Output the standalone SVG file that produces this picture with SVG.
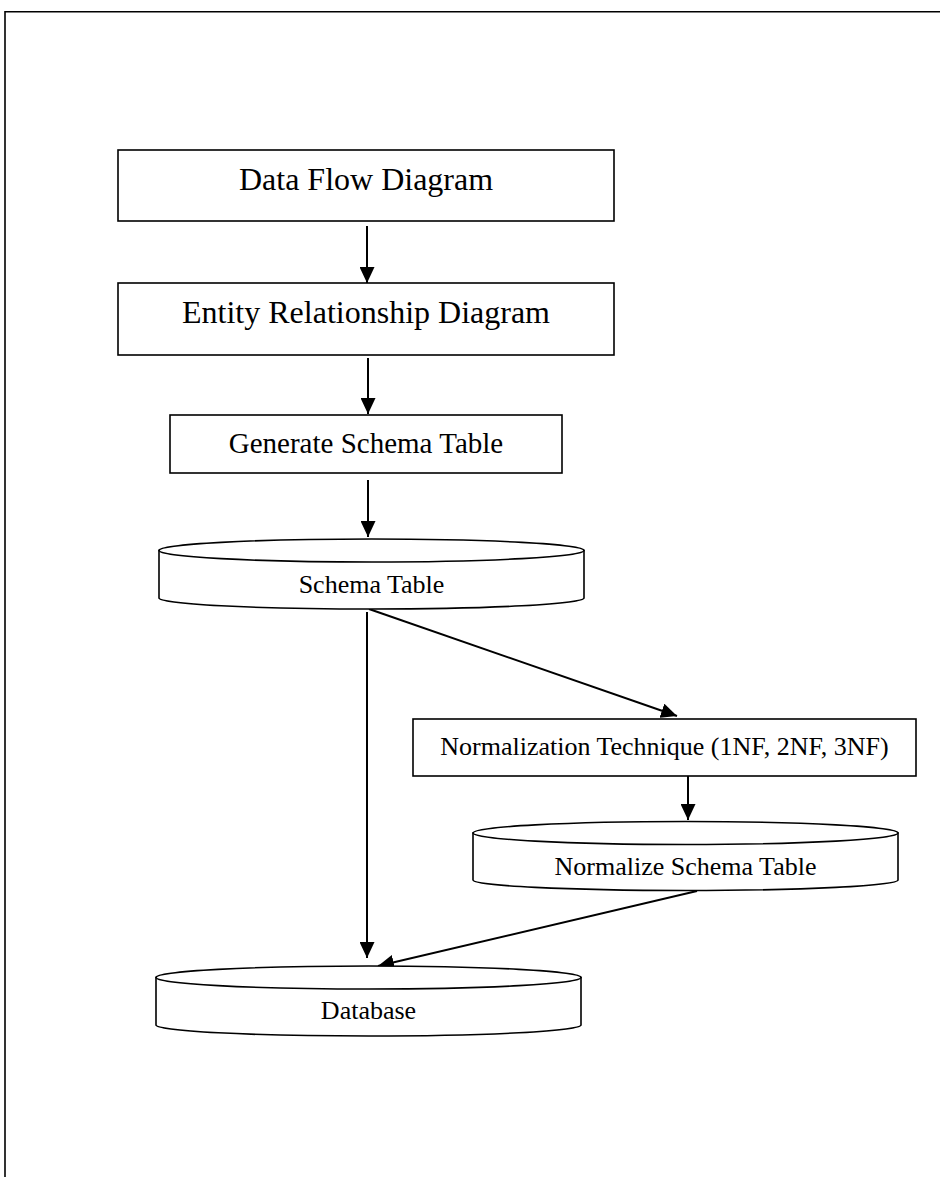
<svg xmlns="http://www.w3.org/2000/svg" width="940" height="1177" viewBox="0 0 940 1177">
  <style>
    .box { fill: #fff; stroke: #000; stroke-width: 1.6; }
    .cyl { fill: #fff; stroke: #000; stroke-width: 1.6; }
    .lbl { font-family: "Liberation Serif", "Times New Roman", serif; fill: #000; text-anchor: middle; }
    .big { font-size: 32px; }
    .mid { font-size: 29px; }
    .sm { font-size: 26px; }
    .edge { stroke: #000; stroke-width: 2; fill: none; marker-end: url(#arrow); }
    .frame { stroke: #000; stroke-width: 1.6; fill: none; }
  </style>
  <defs>
    <marker id="arrow" markerUnits="userSpaceOnUse" markerWidth="16" markerHeight="15" refX="16" refY="7.5" orient="auto">
      <path d="M0,0 L16,7.5 L0,15 z" fill="#000"/>
    </marker>
  </defs>

  <rect width="940" height="1177" fill="#fff"/>

  <!-- page frame -->
  <path class="frame" d="M940,11.8 L5,11.8 L5,1177"/>

  <g id="connectors">
    <line class="edge" x1="367" y1="226" x2="367" y2="283"/>
    <line class="edge" x1="368" y1="358" x2="368" y2="414"/>
    <line class="edge" x1="368" y1="480" x2="368" y2="537"/>
    <line class="edge" x1="369" y1="609" x2="677" y2="716"/>
    <line class="edge" x1="367" y1="612" x2="367" y2="958"/>
    <line class="edge" x1="688" y1="776" x2="688" y2="820"/>
    <line class="edge" x1="697" y1="891" x2="378" y2="966"/>
  </g>

  <g id="data-flow-diagram">
    <rect class="box" x="118" y="150" width="496" height="71"/>
    <text class="lbl big" x="366" y="190">Data Flow Diagram</text>
  </g>

  <g id="entity-relationship-diagram">
    <rect class="box" x="118" y="283" width="496" height="72"/>
    <text class="lbl big" x="366" y="323">Entity Relationship Diagram</text>
  </g>

  <g id="generate-schema-table">
    <rect class="box" x="170" y="415" width="392" height="58"/>
    <text class="lbl mid" x="366" y="453">Generate Schema Table</text>
  </g>

  <g id="schema-table">
    <path class="cyl" d="M159,550.5 L159,598 A212.5,11 0 0 0 584,598 L584,550.5 Z"/>
    <ellipse class="cyl" cx="371.5" cy="550.5" rx="212.5" ry="11.5"/>
    <text class="lbl sm" x="371.5" y="593">Schema Table</text>
  </g>

  <g id="normalization-technique">
    <rect class="box" x="413" y="719" width="503" height="57"/>
    <text class="lbl sm" x="664.5" y="755">Normalization Technique (1NF, 2NF, 3NF)</text>
  </g>

  <g id="normalize-schema-table">
    <path class="cyl" d="M473,833 L473,880 A212.5,10.5 0 0 0 898,880 L898,833 Z"/>
    <ellipse class="cyl" cx="685.5" cy="833" rx="212.5" ry="11.5"/>
    <text class="lbl sm" x="685.5" y="875">Normalize Schema Table</text>
  </g>

  <g id="database">
    <path class="cyl" d="M156,977.5 L156,1025 A212.5,11 0 0 0 581,1025 L581,977.5 Z"/>
    <ellipse class="cyl" cx="368.5" cy="977.5" rx="212.5" ry="11.5"/>
    <text class="lbl sm" x="368.5" y="1019">Database</text>
  </g>
</svg>
